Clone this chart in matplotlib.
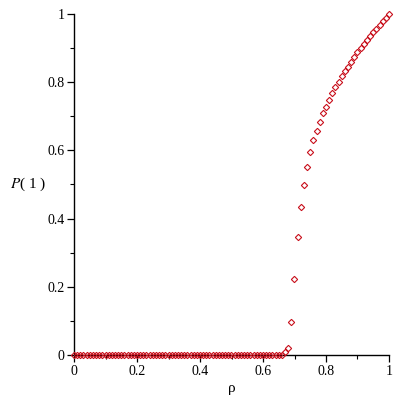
import matplotlib
matplotlib.use('Agg')
import matplotlib.pyplot as plt
from matplotlib.ticker import MultipleLocator, FuncFormatter
import numpy as np

# rho grid, step 0.01
rho = np.round(np.arange(101) * 0.01, 2)

# P(1): zero up to rho = 0.66, then the rise
p_zero = [0.0] * 67
p_rise = [0.008, 0.021, 0.097, 0.223, 0.346, 0.434, 0.498, 0.551, 0.595, 0.630,
          0.656, 0.683, 0.709, 0.728, 0.747, 0.768, 0.785, 0.801, 0.817, 0.833,
          0.846, 0.860, 0.875, 0.890, 0.901, 0.913, 0.925, 0.936, 0.947, 0.957,
          0.968, 0.979, 0.989, 1.000]
p1 = p_zero + p_rise

plt.rcParams['font.family'] = ['Liberation Serif', 'DejaVu Serif']
plt.rcParams['mathtext.fontset'] = 'stix'

fig = plt.figure(figsize=(4, 4), dpi=100)
ax = fig.add_axes([0.185, 0.1125, 0.7875, 0.8525])

ax.plot(rho, p1, linestyle='none', marker='D', markersize=3.2,
        markerfacecolor='none', markeredgecolor='#c8101c', markeredgewidth=0.8,
        clip_on=False, zorder=3)

ax.set_xlim(0, 1)
ax.set_ylim(0, 1)
ax.spines['top'].set_visible(False)
ax.spines['right'].set_visible(False)
ax.spines['left'].set_linewidth(1.0)
ax.spines['bottom'].set_linewidth(1.0)

fmt = FuncFormatter(lambda v, pos: '%g' % round(v, 1))
for axis in (ax.xaxis, ax.yaxis):
    axis.set_major_locator(MultipleLocator(0.2))
    axis.set_minor_locator(MultipleLocator(0.1))
    axis.set_major_formatter(fmt)
ax.tick_params(which='major', length=5, width=0.9, labelsize=10, pad=2)
ax.tick_params(which='minor', length=3, width=0.8)

ax.set_xlabel('ρ', fontsize=11, labelpad=3)
ax.set_ylabel('$P$( 1 )', fontsize=11, rotation=0, labelpad=14, va='center')

plt.savefig('out.png', dpi=100, facecolor='white')
plt.close()
